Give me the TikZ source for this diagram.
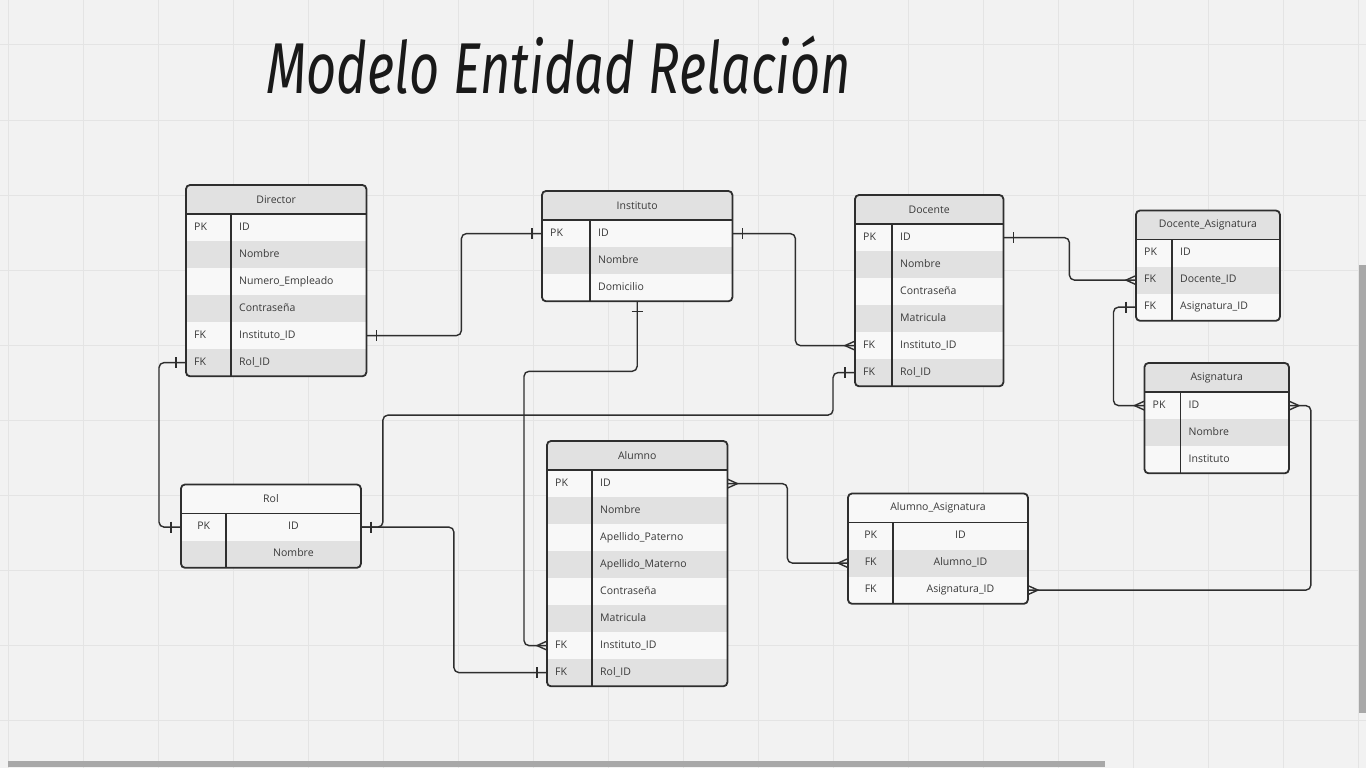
\documentclass[tikz,border=0pt]{standalone}
\usepackage{fontspec}
\usepackage{graphicx}
\setmainfont{Open Sans}
\newfontfamily\titlefont{Fira Sans}
\usetikzlibrary{matrix,positioning}
\definecolor{paper}{HTML}{F2F2F2}
\definecolor{gridline}{HTML}{E4E4E4}
\definecolor{rowlight}{HTML}{F8F8F8}
\definecolor{rowdark}{HTML}{E1E1E1}
\definecolor{frameink}{HTML}{2E2E2E}
\definecolor{textink}{HTML}{3A3A3A}
\definecolor{scrollbar}{HTML}{A8A8A8}
\tikzset{
  every picture/.style={font={\fontsize{10.5}{12}\selectfont}, text=textink}}

\begin{document}
\begin{tikzpicture}[x=1pt, y=-1pt,
    entity/.style 2 args={
      matrix of nodes,
      nodes in empty cells,
      inner sep=0pt,
      column sep=0pt,
      row sep=0pt,
      nodes={
        fill=rowlight,
        inner xsep=8pt,
        inner ysep=0pt,
        minimum height=27pt,
        text height=8pt,
        text depth=2.5pt,
        align=left},
      every even row/.style={nodes={fill=rowdark}},
      column 1/.style={nodes={text width=#1}},
      column 2/.style={nodes={text width=#2}}},
    centred/.style={nodes={align=center}},
    head/.style={
      minimum width=#1,
      minimum height=28.5pt,
      inner sep=0pt,
      fill=rowdark,
      anchor=north west},
    frame/.style={draw=frameink, line width=1.8pt},
    conn/.style={draw=frameink, line width=1.4pt, rounded corners=5pt},
    tipline/.style={draw=frameink, line width=1.4pt, sharp corners},
    one/.pic={\draw[tipline] (0,-5.5) -- (0,5.5);},
    many/.pic={\draw[tipline] (0,-4.5) -- (-10,0) -- (0,4.5);}]

    % canvas
    \fill[paper] (0,0) rectangle (1366,768);
    \useasboundingbox (0,0) rectangle (1366,768);
    \foreach \gx in {8,83,...,1358}
      \draw[gridline, line width=1pt] (\gx,0) -- (\gx,768);
    \foreach \gy in {45,120,...,720}
      \draw[gridline, line width=1pt] (0,\gy) -- (1366,\gy);
    \fill[scrollbar] (8,761) rectangle (1105,767);
    \fill[scrollbar] (1359,265) rectangle (1366,713);

    \node[anchor=base west, inner sep=0pt, text=black!90,
      font={\titlefont\itshape\fontsize{72}{74}\selectfont}] (title) at (266,93)
      {\scalebox{0.727}[1]{Modelo Entidad Relación}};

    % tables
    \node[head=180pt] (director-h) at (186,185) {Director};
    \matrix[entity={29pt}{119pt}, below right=0pt of director-h.south west] (director) {
      PK & ID \\
         & Nombre \\
         & Numero\_Empleado \\
         & Contraseña \\
      FK & Instituto\_ID \\
      FK & Rol\_ID \\
    };

    \node[head=190pt] (instituto-h) at (542,191) {Instituto};
    \matrix[entity={32pt}{126pt}, below right=0pt of instituto-h.south west] (instituto) {
      PK & ID \\
         & Nombre \\
         & Domicilio \\
    };

    \node[head=148pt] (docente-h) at (855,195) {Docente};
    \matrix[entity={21pt}{95pt}, below right=0pt of docente-h.south west] (docente) {
      PK & ID \\
         & Nombre \\
         & Contraseña \\
         & Matricula \\
      FK & Instituto\_ID \\
      FK & Rol\_ID \\
    };

    \node[head=143.5pt] (docasig-h) at (1136,210.5) {Docente\_Asignatura};
    \matrix[entity={20pt}{91.5pt}, below right=0pt of docasig-h.south west] (docasig) {
      PK & ID \\
      FK & Docente\_ID \\
      FK & Asignatura\_ID \\
    };

    \node[head=144pt] (asignatura-h) at (1144.5,363) {Asignatura};
    \matrix[entity={20pt}{92pt}, below right=0pt of asignatura-h.south west] (asignatura) {
      PK & ID \\
         & Nombre \\
         & Instituto \\
    };

    \node[head=179.5pt, fill=rowlight] (rol-h) at (181,484.5) {Rol};
    \matrix[entity={29pt}{118.5pt}, centred, below right=0pt of rol-h.south west] (rol) {
      PK & ID \\
         & Nombre \\
    };

    \node[head=180pt] (alumno-h) at (547,441) {Alumno};
    \matrix[entity={29pt}{119pt}, below right=0pt of alumno-h.south west] (alumno) {
      PK & ID \\
         & Nombre \\
         & Apellido\_Paterno \\
         & Apellido\_Materno \\
         & Contraseña \\
         & Matricula \\
      FK & Instituto\_ID \\
      FK & Rol\_ID \\
    };

    \node[head=179.5pt, fill=rowlight] (alumasig-h) at (848,493.5) {Alumno\_Asignatura};
    \matrix[entity={29pt}{118.5pt}, centred, below right=0pt of alumasig-h.south west] (alumasig) {
      PK & ID \\
      FK & Alumno\_ID \\
      FK & Asignatura\_ID \\
    };

    \foreach \t in {director,instituto,docente,docasig,asignatura,rol,alumno,alumasig} {
      \draw[frame] (\t-h.south west) -- (\t-h.south east);
      \draw[frame] (\t-1-2.north west) -- (\t-1-2.west |- \t.south);
      \draw[frame, rounded corners=4pt] (\t-h.north west) rectangle (\t.south east);
    }

    % relations
    \draw[conn] (director-5-2.east) -- ++(95,0) |- (instituto-1-1.west);
    \draw[conn] (instituto-1-2.east) -- ++(63,0) |- (docente-5-1.west);
    \draw[conn] (instituto.south) -- ++(0,70) -| ([xshift=-23pt]alumno-7-1.west) -- (alumno-7-1.west);
    \draw[conn] (director-6-1.west) -- ++(-27,0) |- (rol-1-1.west);
    \draw[conn] (rol-1-2.east) -- ++(22,0) -- ++(0,-112) -| ([xshift=-22pt]docente-6-1.west) -- (docente-6-1.west);
    \draw[conn] (rol-1-2.east) -- ++(93,0) |- (alumno-8-1.west);
    \draw[conn] (docente-1-2.east) -- ++(66,0) |- (docasig-2-1.west);
    \draw[conn] (docasig-3-1.west) -- ++(-22.5,0) |- (asignatura-1-1.west);
    \draw[conn] (asignatura-1-2.east) -- ++(22,0) |- (alumasig-3-2.east);
    \draw[conn] (alumno-1-2.east) -- ++(60,0) |- (alumasig-2-1.west);

    % ends
    \pic[xshift=10pt] at (director-5-2.east) {one};
    \pic[xshift=-10pt] at (instituto-1-1.west) {one};
    \pic[xshift=10pt] at (instituto-1-2.east) {one};
    \pic[yshift=-10pt, rotate=90] at (instituto.south) {one};
    \pic[xshift=-10pt] at (director-6-1.west) {one};
    \pic[xshift=-10pt] at (rol-1-1.west) {one};
    \pic[xshift=10pt] at (rol-1-2.east) {one};
    \pic[xshift=-10pt] at (docente-6-1.west) {one};
    \pic[xshift=-10pt] at (alumno-8-1.west) {one};
    \pic[xshift=10pt] at (docente-1-2.east) {one};
    \pic[xshift=-10pt] at (docasig-3-1.west) {one};
    \pic at (docente-5-1.west) {many};
    \pic at (alumno-7-1.west) {many};
    \pic at (docasig-2-1.west) {many};
    \pic at (asignatura-1-1.west) {many};
    \pic[xscale=-1] at (asignatura-1-2.east) {many};
    \pic[xscale=-1] at (alumasig-3-2.east) {many};
    \pic[xscale=-1] at (alumno-1-2.east) {many};
    \pic at (alumasig-2-1.west) {many};
  \end{tikzpicture}
\end{document}
